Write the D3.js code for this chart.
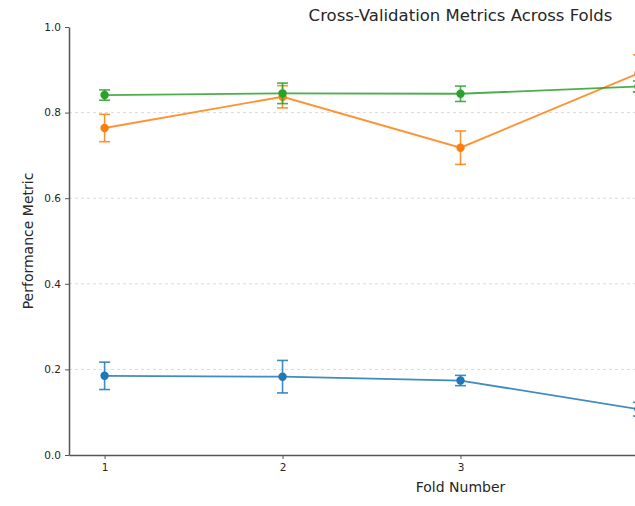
<!DOCTYPE html>
<html><head><meta charset="utf-8">
<script src="https://cdn.jsdelivr.net/npm/d3@7"></script>
<style>
html,body{margin:0;padding:0;overflow:hidden;background:#fff;width:635px;height:506px;}
text{font-family:"DejaVu Sans",sans-serif;fill:#262626;}
</style></head>
<body>
<script>
const folds = [1, 2, 3, 4, 5];
const seriesNames = ["Metric A", "Metric B", "Metric C"];
const blueMean = [0.185, 0.183, 0.174, 0.107, 0.150];
const blueErr  = [0.032, 0.038, 0.012, 0.016, 0.020];
const orangeMean = [0.764, 0.837, 0.718, 0.892, 0.800];
const orangeErr  = [0.032, 0.026, 0.039, 0.043, 0.030];
const greenMean = [0.841, 0.845, 0.844, 0.861, 0.850];
const greenErr  = [0.012, 0.024, 0.018, 0.013, 0.015];
const yTicks = [0.0, 0.2, 0.4, 0.6, 0.8, 1.0];
const colors = ["#1f77b4", "#ff7f0e", "#2ca02c"];

const series = [
  {name: seriesNames[0], mean: blueMean, err: blueErr, color: colors[0]},
  {name: seriesNames[1], mean: orangeMean, err: orangeErr, color: colors[1]},
  {name: seriesNames[2], mean: greenMean, err: greenErr, color: colors[2]}
];

const W = 880, H = 506;
const m = {left: 69, right: 28, top: 27, bottom: 51};
const svg = d3.select("body").append("svg").attr("width", W).attr("height", H);

const x = d3.scaleLinear().domain([0.8, 5.2]).range([m.left, W - m.right]);
const y = d3.scaleLinear().domain([0, 1]).range([H - m.bottom, m.top]);

// grid
svg.append("g").selectAll("line").data(yTicks.filter(d => d > 0 && d < 1)).join("line")
  .attr("x1", m.left).attr("x2", W - m.right)
  .attr("y1", d => y(d)).attr("y2", d => y(d))
  .attr("stroke", "#b0b0b0").attr("stroke-opacity", 0.6).attr("stroke-width", 0.8)
  .attr("stroke-dasharray", "3,3");

// series
series.forEach(s => {
  const g = svg.append("g");
  const pts = folds.map((f, i) => ({f, v: s.mean[i], e: s.err[i]}));
  g.append("path").datum(pts)
    .attr("d", d3.line().x(d => x(d.f)).y(d => y(d.v)))
    .attr("fill", "none").attr("stroke", s.color).attr("stroke-width", 1.8).attr("stroke-opacity", 0.85);
  const eb = g.selectAll("g.eb").data(pts).join("g").attr("stroke", s.color).attr("stroke-width", 1.6).attr("stroke-opacity", 0.85);
  eb.append("line").attr("x1", d => x(d.f)).attr("x2", d => x(d.f))
    .attr("y1", d => y(d.v - d.e)).attr("y2", d => y(d.v + d.e));
  eb.append("line").attr("x1", d => x(d.f) - 5.5).attr("x2", d => x(d.f) + 5.5)
    .attr("y1", d => y(d.v - d.e)).attr("y2", d => y(d.v - d.e));
  eb.append("line").attr("x1", d => x(d.f) - 5.5).attr("x2", d => x(d.f) + 5.5)
    .attr("y1", d => y(d.v + d.e)).attr("y2", d => y(d.v + d.e));
  g.selectAll("circle").data(pts).join("circle")
    .attr("cx", d => x(d.f)).attr("cy", d => y(d.v)).attr("r", 4.2)
    .attr("fill", s.color);
});

// axes
const xAxis = svg.append("g").attr("transform", `translate(0,${H - m.bottom})`)
  .call(d3.axisBottom(x).tickValues(folds).tickFormat(d3.format("d")).tickSize(4).tickPadding(5).tickSizeOuter(0));
const yAxis = svg.append("g").attr("transform", `translate(${m.left},0)`)
  .call(d3.axisLeft(y).tickValues(yTicks).tickFormat(d3.format(".1f")).tickSize(4).tickPadding(4).tickSizeOuter(0));
[xAxis, yAxis].forEach(a => {
  a.select(".domain").attr("stroke", "#555").attr("stroke-width", 1.5);
  a.selectAll(".tick line").attr("stroke", "#555").attr("stroke-width", 1);
  a.selectAll(".tick text").attr("font-size", 10.5).attr("fill", "#262626").attr("font-family", "DejaVu Sans, sans-serif");
});

svg.append("text").attr("x", (m.left + W - m.right) / 2).attr("y", 492)
  .attr("text-anchor", "middle").attr("font-size", 14).text("Fold Number");
svg.append("text").attr("transform", `translate(33,${(m.top + H - m.bottom) / 2}) rotate(-90)`)
  .attr("text-anchor", "middle").attr("font-size", 14).text("Performance Metric");
svg.append("text").attr("x", (m.left + W - m.right) / 2).attr("y", 21)
  .attr("text-anchor", "middle").attr("font-size", 16.5).text("Cross-Validation Metrics Across Folds");
</script>
</body></html>
